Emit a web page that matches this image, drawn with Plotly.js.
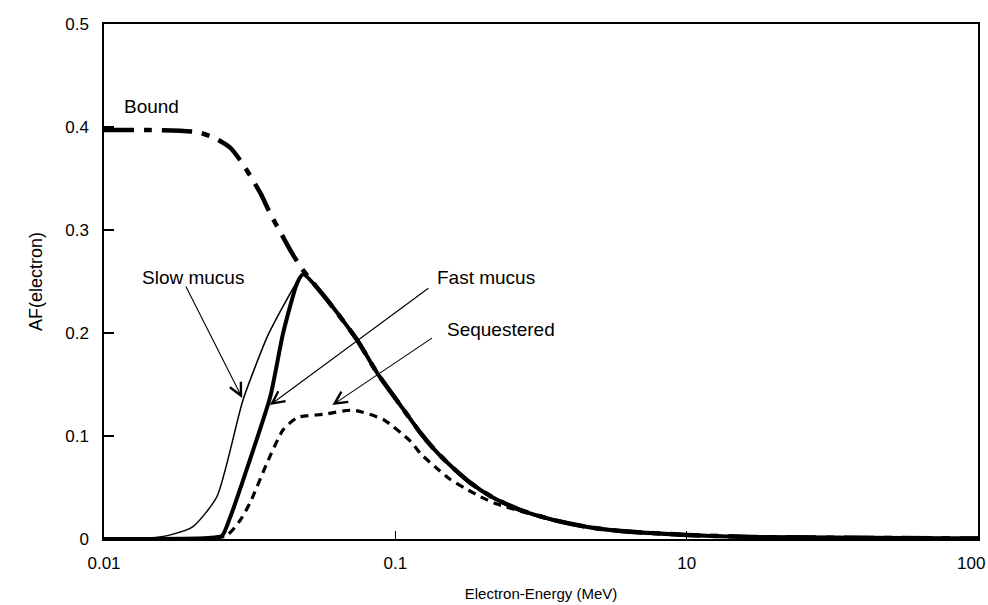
<!DOCTYPE html>
<html>
<head>
<meta charset="utf-8">
<script src="https://cdn.plot.ly/plotly-3.0.1.min.js"></script>
<style>html,body{margin:0;padding:0;background:#fff;}#chart{width:988px;height:605px;}</style>
</head>
<body>
<div id="chart"></div>
<script>
// ---- data ----
const energyBound = [0.01, 0.0144, 0.0209, 0.0237, 0.0271, 0.0293, 0.0317, 0.0344, 0.0372, 0.0412, 0.0443, 0.0479, 0.0584, 0.074, 0.0867, 0.104, 0.122, 0.135, 0.151, 0.181, 0.217, 0.269, 0.349, 0.457, 0.593, 1.0, 1.66, 10];
const afBound     = [0.397, 0.397, 0.395, 0.390, 0.380, 0.368, 0.353, 0.336, 0.316, 0.293, 0.277, 0.262, 0.232, 0.193, 0.161, 0.130, 0.103, 0.088, 0.074, 0.0545, 0.040, 0.028, 0.0185, 0.0117, 0.0078, 0.004, 0.002, 0.0005];

const energySlow = [0.01, 0.0144, 0.0169, 0.0202, 0.0244, 0.030, 0.0363, 0.0412, 0.0461, 0.0483, 0.0584, 0.074, 0.0867, 0.104, 0.122, 0.135, 0.151, 0.181, 0.217, 0.269, 0.349, 0.457, 0.593, 1.0, 1.66, 10];
const afSlow     = [0, 0.001, 0.004, 0.012, 0.041, 0.135, 0.196, 0.226, 0.250, 0.257, 0.232, 0.193, 0.161, 0.130, 0.103, 0.088, 0.074, 0.0545, 0.040, 0.028, 0.0185, 0.0117, 0.0078, 0.004, 0.002, 0.0005];

const energyFast = [0.01, 0.0228, 0.0254, 0.0271, 0.0317, 0.0372, 0.0412, 0.0461, 0.0483, 0.0584, 0.074, 0.0867, 0.104, 0.122, 0.135, 0.151, 0.181, 0.217, 0.269, 0.349, 0.457, 0.593, 1.0, 1.66, 10];
const afFast     = [0, 0.001, 0.003, 0.021, 0.077, 0.138, 0.200, 0.249, 0.257, 0.232, 0.193, 0.161, 0.130, 0.103, 0.088, 0.074, 0.0545, 0.040, 0.028, 0.0185, 0.0117, 0.0078, 0.004, 0.002, 0.0005];

const energySeq = [0.01, 0.0262, 0.0293, 0.0317, 0.0363, 0.0412, 0.0461, 0.0566, 0.0717, 0.0909, 0.1126, 0.122, 0.137, 0.154, 0.174, 0.196, 0.223, 0.269, 0.349, 0.457, 0.593, 1.0, 1.66, 10];
const afSeq     = [0, 0.003, 0.018, 0.035, 0.074, 0.106, 0.118, 0.121, 0.125, 0.116, 0.095, 0.083, 0.070, 0.058, 0.049, 0.041, 0.034, 0.027, 0.0185, 0.0117, 0.0078, 0.004, 0.002, 0.0005];

const xTickVals = [0.01, 0.1, 1, 10];
const xTickText = ['0.01', '0.1', '10', ''];
const xLastTickLabel = '100';
const yTickVals = [0, 0.1, 0.2, 0.3, 0.4, 0.5];
const yTickText = ['0', '0.1', '0.2', '0.3', '0.4', '0.5'];

const seriesLabels = ['Bound', 'Slow mucus', 'Fast mucus', 'Sequestered'];

// ---- traces ----
const traces = [
  {x: energySlow, y: afSlow, name: seriesLabels[1], mode: 'lines',
   line: {color: '#000', width: 1.5, shape: 'spline', smoothing: 0.6}},
  {x: energyFast, y: afFast, name: seriesLabels[2], mode: 'lines',
   line: {color: '#000', width: 4, shape: 'spline', smoothing: 0.6}},
  {x: energySeq, y: afSeq, name: seriesLabels[3], mode: 'lines',
   line: {color: '#000', width: 3.2, dash: '8px,6px', shape: 'spline', smoothing: 0.6}},
  {x: energyBound, y: afBound, name: seriesLabels[0], mode: 'lines',
   line: {color: '#000', width: 4.5, dash: '30px,10px,8px,10px', shape: 'spline', smoothing: 0.6}}
];

const fontFam = 'Liberation Sans, Arial, Helvetica, sans-serif';
const lg = v => Math.log10(v);
const annFont = {size: 19, family: fontFam, color: '#000'};
const arrowStyle = {arrowhead: 5, arrowsize: 2.2, arrowwidth: 1.1, arrowcolor: '#000'};

const annotations = [
  // labels
  {x: lg(0.0146), y: 0.420, xref: 'x', yref: 'y', text: seriesLabels[0], showarrow: false, font: annFont},
  {x: lg(0.0202), y: 0.254, xref: 'x', yref: 'y', text: seriesLabels[1], showarrow: false, font: annFont},
  {x: lg(0.204), y: 0.254, xref: 'x', yref: 'y', text: seriesLabels[2], showarrow: false, font: annFont},
  {x: lg(0.23), y: 0.203, xref: 'x', yref: 'y', text: seriesLabels[3], showarrow: false, font: annFont},
  // arrows
  Object.assign({x: lg(0.0298), y: 0.137, xref: 'x', yref: 'y', text: '', showarrow: true, ax: -57, ay: -113}, arrowStyle),
  Object.assign({x: lg(0.0371), y: 0.130, xref: 'x', yref: 'y', text: '', showarrow: true, ax: 160, ay: -118}, arrowStyle),
  Object.assign({x: lg(0.0608), y: 0.130, xref: 'x', yref: 'y', text: '', showarrow: true, ax: 101, ay: -68}, arrowStyle),
  // last x tick label, kept inside the page
  {x: 1, y: 0, xref: 'paper', yref: 'paper', text: xLastTickLabel, showarrow: false,
   xanchor: 'right', yanchor: 'top', xshift: 9, yshift: -13, font: {size: 17, family: fontFam, color: '#000'}}
];

const layout = {
  width: 988, height: 605,
  margin: {l: 104, r: 10, t: 24, b: 66},
  paper_bgcolor: '#fff', plot_bgcolor: '#fff',
  font: {family: fontFam, color: '#000', size: 14},
  showlegend: false,
  xaxis: {
    type: 'log', range: [-2, 1],
    tickvals: xTickVals, ticktext: xTickText,
    ticks: 'inside', ticklen: 8, tickwidth: 1.2, tickcolor: '#000',
    showline: true, mirror: true, linecolor: '#000', linewidth: 1.6,
    showgrid: false, zeroline: false,
    tickfont: {size: 17}, ticklabelstandoff: 8,
    title: {text: 'Electron-Energy (MeV)', font: {size: 15}, standoff: 16}
  },
  yaxis: {
    range: [0, 0.5],
    tickvals: yTickVals, ticktext: yTickText,
    ticks: 'inside', ticklen: 10, tickwidth: 1.2, tickcolor: '#000',
    showline: true, mirror: true, linecolor: '#000', linewidth: 1.6,
    showgrid: false, zeroline: false,
    tickfont: {size: 17}, ticklabelstandoff: 10,
    title: {text: 'AF(electron)', font: {size: 18}, standoff: 18}
  },
  annotations: annotations
};

Plotly.newPlot('chart', traces, layout, {displayModeBar: false, staticPlot: true});
</script>
</body>
</html>
